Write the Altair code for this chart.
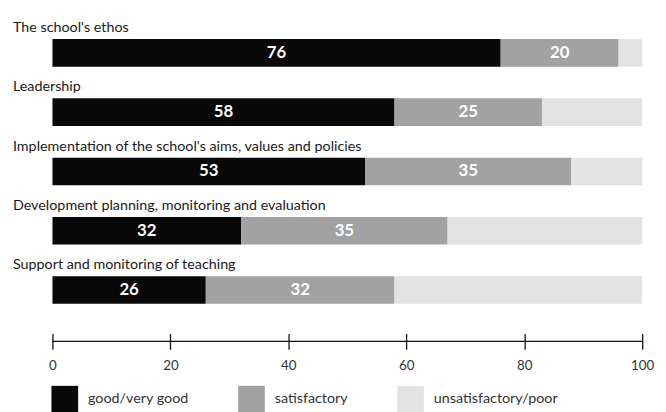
import altair as alt
import pandas as pd

categories = [
    "The school's ethos",
    "Leadership",
    "Implementation of the school's aims, values and policies",
    "Development planning, monitoring and evaluation",
    "Support and monitoring of teaching",
]
good = [76, 58, 53, 32, 26]
satisfactory = [20, 25, 35, 35, 32]
unsatisfactory = [4, 17, 12, 33, 42]
ratings = ["good/very good", "satisfactory", "unsatisfactory/poor"]
colors = ["#080808", "#a2a2a2", "#e3e3e3"]
ticks = [0, 20, 40, 60, 80, 100]

rows = []
for i, c in enumerate(categories):
    vals = [good[i], satisfactory[i], unsatisfactory[i]]
    for j, (r, v) in enumerate(zip(ratings, vals)):
        rows.append({"category": c, "rating": r, "order": j, "value": v,
                     "label": str(v) if j < 2 else ""})
df = pd.DataFrame(rows)

W, H = 597, 300
FONT = "Lato"

base = alt.Chart(df).transform_stack(
    stack="value", groupby=["category"], as_=["start", "end"],
    sort=[alt.SortField("order")]
).transform_calculate(mid="(datum.start + datum.end) / 2")

y = alt.Y("category:N", sort=categories, axis=None,
          scale=alt.Scale(paddingInner=0, paddingOuter=0))
xscale = alt.Scale(domain=[0, 100], nice=False, zero=True)

bars = base.mark_bar(size=28).encode(
    x=alt.X("start:Q", scale=xscale, title=None,
            axis=alt.Axis(values=ticks, offset=14, tickSize=16, domain=False,
                          grid=False, labelPadding=9, labelFontSize=13.5,
                          labelColor="#333", tickColor="#111", tickWidth=1.3,
                          labelFont=FONT, format="d", labelFlush=False)),
    x2="end:Q",
    y=y,
    color=alt.Color("rating:N", scale=alt.Scale(domain=ratings, range=colors),
                    legend=alt.Legend(orient="none", legendX=-1, legendY=367,
                                      direction="horizontal", title=None,
                                      symbolType="square", symbolSize=729,
                                      symbolStrokeWidth=0, labelFontSize=14.5,
                                      labelFont=FONT, labelColor="#333",
                                      labelOffset=10, columnPadding=50,
                                      padding=0, symbolOpacity=1)),
)

nums = base.transform_filter("datum.order < 2").mark_text(
    color="white", fontWeight="bold", fontSize=17, font=FONT, baseline="middle"
).encode(x=alt.X("mid:Q", scale=xscale), y=y, text="label:N")

cat_labels = alt.Chart(pd.DataFrame({"category": categories})).mark_text(
    align="left", baseline="alphabetic", dy=-21, fontSize=14.5, color="#1a1a1a",
    font=FONT
).encode(x=alt.value(-40), y=y, text="category:N")

axis_line = alt.Chart(pd.DataFrame({"t": [0]})).mark_rule(
    color="#111", strokeWidth=1.3
).encode(x=alt.value(0), x2=alt.value(W), y=alt.value(H + 22))

chart = alt.layer(bars, nums, cat_labels, axis_line).properties(
    width=W, height=H,
    autosize=alt.AutoSizeParams(type="none"),
    padding={"left": 45, "top": 13, "right": 16, "bottom": 91},
).configure(font=FONT).configure_view(stroke=None)

chart.save("out.html", embed_options={"renderer": "svg", "actions": False})
